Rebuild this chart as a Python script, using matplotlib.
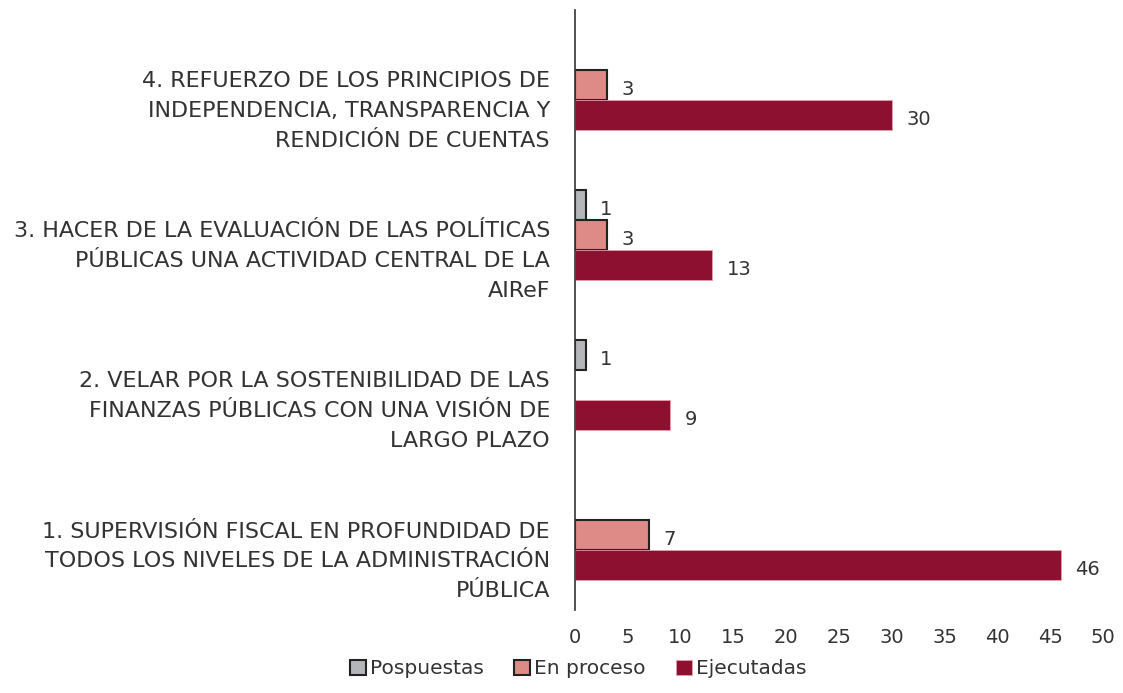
import numpy as np
import matplotlib.pyplot as plt
from matplotlib.patches import Patch

categorias = [
    "1. SUPERVISIÓN FISCAL EN PROFUNDIDAD DE\nTODOS LOS NIVELES DE LA ADMINISTRACIÓN\nPÚBLICA",
    "2. VELAR POR LA SOSTENIBILIDAD DE LAS\nFINANZAS PÚBLICAS CON UNA VISIÓN DE\nLARGO PLAZO",
    "3. HACER DE LA EVALUACIÓN DE LAS POLÍTICAS\nPÚBLICAS UNA ACTIVIDAD CENTRAL DE LA\nAIReF",
    "4. REFUERZO DE LOS PRINCIPIOS DE\nINDEPENDENCIA, TRANSPARENCIA Y\nRENDICIÓN DE CUENTAS",
]
pospuestas = [0, 1, 1, 0]
en_proceso = [7, 0, 3, 3]
ejecutadas = [46, 9, 13, 30]

fig = plt.figure(figsize=(11.23, 6.93), dpi=100)
ax = fig.add_axes([0.512, 0.12, 0.47, 0.866])

y = np.arange(len(categorias))
h = 0.2
series = [
    ("Pospuestas", pospuestas, 0.2, "#b3b5b9", "#222222", 1.5),
    ("En proceso", en_proceso, 0.0, "#de8a86", "#222222", 1.5),
    ("Ejecutadas", ejecutadas, -0.2, "#8e1030", "#e8a0a8", 0.6),
]
handles = []
for nombre, vals, off, color, ec, lw in series:
    bars = ax.barh(y + off, vals, height=h, color=color, edgecolor=ec,
                   linewidth=lw)
    handles.append(Patch(facecolor=color, edgecolor=ec, linewidth=lw, label=nombre))
    for b, v in zip(bars, vals):
        if v == 0:
            b.set_visible(False)
            continue
        ax.text(v + 1.4, b.get_y() + b.get_height() / 2 - 0.03, str(v),
                va="center", ha="left", fontsize=14, color="#333333")

ax.set_xlim(0, 50)
ax.set_ylim(-0.5, 3.5)
ax.set_xticks(range(0, 51, 5))
ax.set_yticks(y - 0.13)
ax.set_yticklabels(categorias, fontsize=16, color="#333333", linespacing=1.6)
ax.tick_params(axis="both", length=0, colors="#333333")
ax.tick_params(axis="x", labelsize=14, pad=13)
ax.tick_params(axis="y", pad=18)
for s in ["top", "right", "bottom"]:
    ax.spines[s].set_visible(False)
ax.spines["left"].set_color("#333333")
ax.spines["left"].set_linewidth(1.2)

fig.legend(handles=handles, loc="lower center", bbox_to_anchor=(0.515, -0.005), ncol=3,
           frameon=False, fontsize=14.5, handlelength=0.8, handleheight=0.8,
           handletextpad=0.2, columnspacing=1.5, labelcolor="#333333")

fig.savefig("out.png", dpi=100)
